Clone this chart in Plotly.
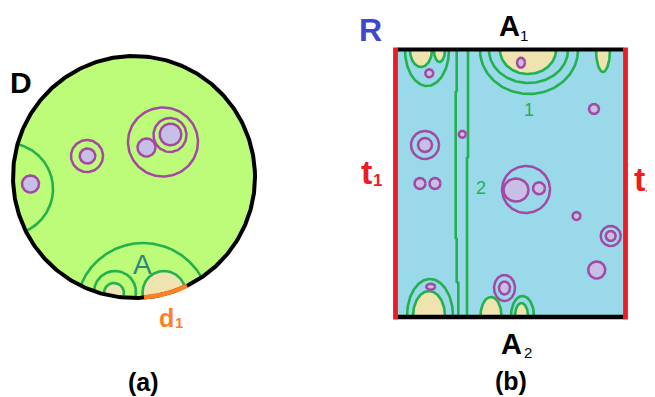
import numpy as np
import plotly.graph_objects as go

# ---------------- geometry data (pixel space, y downward) ----------------
# Panel (a): disk D
DISK = (134.0, 177.0, 121.0)  # cx, cy, r
# purple circles in D: cx, cy, rx, ry, filled
PURPLE_A = [
    (87.0, 156.0, 16.0, 16.0, False),
    (87.5, 156.0, 7.8, 7.5, True),
    (163.0, 142.0, 35.0, 34.5, False),
    (170.0, 135.0, 16.5, 17.0, False),
    (170.5, 134.5, 10.8, 10.8, True),
    (146.5, 147.5, 9.0, 9.0, True),
    (30.5, 184.0, 8.5, 8.5, True),
]
# green circular arcs (clipped to disk): cx, cy, r, beige-filled
GREEN_ARCS_A = [
    (7.0, 189.0, 46.0, False),
    (143.0, 310.0, 67.0, False),
    (115.0, 292.0, 21.0, False),
    (114.0, 293.0, 10.0, True),
    (164.0, 292.5, 21.5, True),
]
D1_X = (144.0, 187.0)  # orange boundary arc x-range

# Panel (b): rectangle R
RECT = (395.5, 625.5, 49.5, 317.0)  # x0, x1, ytop, ybottom
# purple circles in R
PURPLE_B = [
    (429.3, 73.3, 4.0, 4.0, True),
    (425.0, 145.0, 14.0, 14.0, False),
    (425.0, 145.0, 7.0, 7.0, True),
    (420.0, 183.5, 5.5, 5.5, True),
    (435.0, 183.5, 5.5, 5.5, True),
    (462.3, 134.3, 3.5, 3.5, True),
    (521.0, 62.7, 4.0, 5.0, True),
    (594.0, 109.0, 5.0, 5.0, True),
    (526.0, 189.5, 24.0, 23.5, False),
    (516.0, 190.0, 12.5, 11.5, True),
    (539.0, 188.3, 6.0, 6.0, True),
    (576.5, 216.0, 4.0, 4.0, True),
    (610.7, 236.0, 10.0, 10.0, False),
    (610.7, 236.0, 5.0, 5.0, True),
    (596.7, 270.0, 8.5, 8.5, True),
    (504.5, 288.0, 10.5, 13.0, False),
    (504.5, 288.0, 5.5, 6.5, True),
    (430.7, 286.7, 4.5, 3.0, True),
]
# green half-ellipses on top/bottom edges: cx, base_y, rx, ry, beige-filled
U_TOP = [
    (421.0, 50.0, 11.0, 17.0, True),
    (439.5, 50.0, 5.5, 12.0, True),
    (528.0, 50.0, 28.0, 24.0, True),
    (603.0, 50.0, 7.0, 22.0, True),
    (427.0, 50.0, 22.0, 36.0, False),
    (528.5, 50.0, 39.5, 33.0, False),
    (529.0, 50.0, 49.0, 44.0, False),
]
U_BOTTOM = [
    (429.0, 316.0, 16.0, 25.0, True),
    (491.0, 316.0, 10.5, 19.0, True),
    (521.5, 316.0, 6.5, 13.0, True),
    (430.0, 316.0, 23.0, 37.0, False),
    (522.5, 316.0, 11.5, 20.0, False),
]
# vertical green curves in R
VLINE_1_X = [456.7, 456.7, 455.7, 455.7, 456.7, 456.7, 458.3, 458.3]
VLINE_1_Y = [51, 91, 92, 238, 239, 282, 283, 316]
VLINE_2_X = [468.0, 468.0, 467.0, 467.0]
VLINE_2_Y = [51, 157, 158, 316]

# colours
LIME = "#bdfc79"
BEIGE = "#efe4b0"
GREEN = "#22b14c"
PURPLE = "#a349a4"
LAVENDER = "#c8bfe7"
SKY = "#99d9ea"
RED = "#ed1c24"
ORANGE = "#ff7f27"
BLUE = "#3f48cc"

W, H = 655, 397
PAGE_MARGIN = 8  # default HTML body margin
fig = go.Figure()


def add(xs, ys, color=None, width=0, fill=None, closed=False):
    xs = list(xs); ys = list(ys)
    if closed:
        xs.append(xs[0]); ys.append(ys[0])
    fig.add_trace(go.Scatter(
        x=xs, y=ys, mode="lines",
        line=dict(color=color if color else "rgba(0,0,0,0)", width=width),
        fill="toself" if fill else None, fillcolor=fill,
        hoverinfo="skip", showlegend=False))


def ellipse(cx, cy, rx, ry, n=120):
    t = np.linspace(0, 2 * np.pi, n, endpoint=False)
    return cx + rx * np.cos(t), cy + ry * np.sin(t)


dcx, dcy, dr = DISK
# ---- panel (a) ----
ex, ey = ellipse(dcx, dcy, dr, dr, 360)
add(ex, ey, fill=LIME, closed=True)

for cx, cy, r, filled in GREEN_ARCS_A:
    th0 = np.arctan2(dcy - cy, dcx - cx)
    t = np.linspace(th0 - np.pi, th0 + np.pi, 1440)
    px = cx + r * np.cos(t)
    py = cy + r * np.sin(t)
    d = np.hypot(px - dcx, py - dcy)
    inside = d <= dr
    if filled:
        scale = np.where(d > dr, dr / d, 1.0)
        fx = dcx + (px - dcx) * scale
        fy = dcy + (py - dcy) * scale
        add(fx, fy, fill=BEIGE, closed=True)
    add(px[inside], py[inside], color=GREEN, width=2.6)

add(ex, ey, color="black", width=4, closed=True)

xa = np.linspace(D1_X[0], D1_X[1], 60)
ya = dcy + np.sqrt(dr ** 2 - (xa - dcx) ** 2)
add(xa, ya, color=ORANGE, width=4.5)

for cx, cy, rx, ry, filled in PURPLE_A:
    px, py = ellipse(cx, cy, rx, ry)
    add(px, py, color=PURPLE, width=2.5, fill=LAVENDER if filled else None, closed=True)

# ---- panel (b) ----
x0, x1, yt, yb = RECT
add([x0, x1, x1, x0], [yt, yt, yb, yb], fill=SKY, closed=True)

for cx, by, rx, ry, filled in U_TOP:
    t = np.linspace(0, np.pi, 100)
    px = cx + rx * np.cos(t)
    py = by + ry * np.sin(t)
    if filled:
        add(px, py, fill=BEIGE, closed=True)
    add(px, py, color=GREEN, width=2.6)

for cx, by, rx, ry, filled in U_BOTTOM:
    t = np.linspace(0, np.pi, 100)
    px = cx + rx * np.cos(t)
    py = by - ry * np.sin(t)
    if filled:
        add(px, py, fill=BEIGE, closed=True)
    add(px, py, color=GREEN, width=2.6)

add(VLINE_1_X, VLINE_1_Y, color=GREEN, width=2.6)
add(VLINE_2_X, VLINE_2_Y, color=GREEN, width=2.6)

for cx, cy, rx, ry, filled in PURPLE_B:
    px, py = ellipse(cx, cy, rx, ry)
    add(px, py, color=PURPLE, width=2.5, fill=LAVENDER if filled else None, closed=True)

add([x0 + 2, x1 - 2], [yt, yt], color="black", width=4)
add([x0 + 2, x1 - 2], [yb, yb], color="black", width=4.3)
add([x0, x0], [47.5, 319.5], color=RED, width=4.8)
add([x1, x1], [47.5, 319.5], color=RED, width=4.8)

# ---------------- labels ----------------
LABELS = [
    # text, x, y, size, color, bold
    ("D", 21, 82, 30, "black", True),
    ("A", 142, 264, 28, "#2a8a78", False),
    ("d", 166, 318, 25, ORANGE, True),
    ("1", 179, 322, 15, ORANGE, True),
    ("(a)", 143, 382, 25, "black", True),
    ("R", 370, 30, 32, BLUE, True),
    ("A", 509, 26, 29, "black", True),
    ("1", 524, 35, 15, "black", False),
    ("A", 511, 344, 29, "black", True),
    ("2", 528, 352, 15, "black", False),
    ("t", 366, 172, 34, RED, True),
    ("1", 377, 180, 17, RED, True),
    ("t", 639, 179, 34, RED, True),
    ("2", 650, 187, 14, RED, True),
    ("(b)", 511, 381, 25, "black", True),
    ("1", 529, 110, 18, GREEN, False),
    ("2", 481, 188, 18, GREEN, False),
]
for txt, x, y, s, c, b in LABELS:
    fig.add_annotation(
        x=x, y=y, xref="x", yref="y", showarrow=False,
        text=f"<b>{txt}</b>" if b else txt,
        font=dict(family="Liberation Sans, Arial", size=s, color=c),
        xanchor="center", yanchor="middle")

fig.update_layout(
    width=W - PAGE_MARGIN, height=H - PAGE_MARGIN, autosize=False,
    margin=dict(l=0, r=0, t=0, b=0, pad=0),
    paper_bgcolor="white", plot_bgcolor="white",
    xaxis=dict(range=[PAGE_MARGIN, W], visible=False, fixedrange=True),
    yaxis=dict(range=[H, PAGE_MARGIN], visible=False, fixedrange=True),
    showlegend=False,
)
fig.write_html("out.html")
